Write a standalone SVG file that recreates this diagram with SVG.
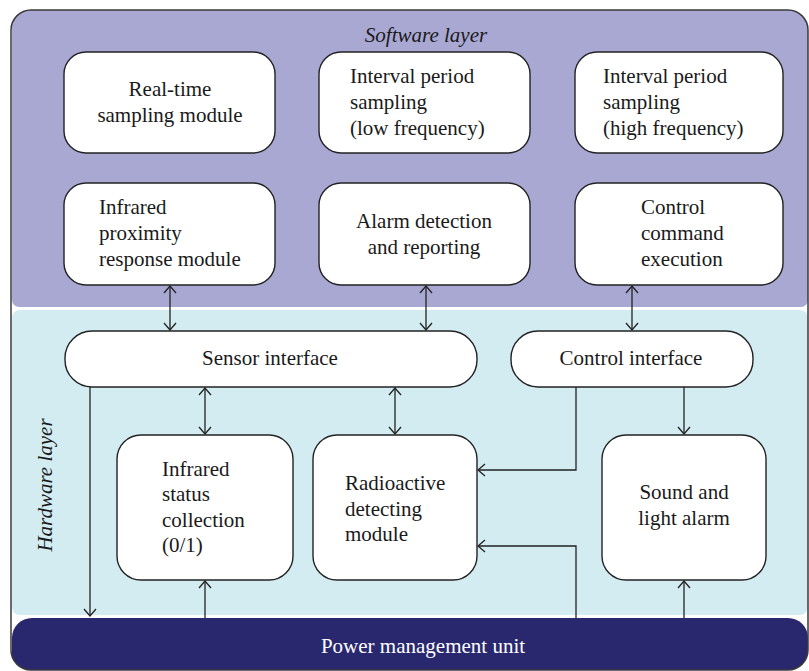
<svg xmlns="http://www.w3.org/2000/svg" width="809" height="671" viewBox="0 0 809 671">
<style>
.box{fill:#fff;stroke:#222;stroke-width:1.4}
.t{font-family:"Liberation Serif","Times New Roman",serif;font-size:21px;fill:#1a1a1a}
.c{text-anchor:middle}
.i{font-style:italic}
.w{fill:#fff}
.ln{fill:none;stroke:#222;stroke-width:1.3}
</style>
<defs>
<clipPath id="frameClip"><rect x="11" y="10" width="797" height="660" rx="20"/></clipPath>
<marker id="ah" markerUnits="userSpaceOnUse" markerWidth="16" markerHeight="16" viewBox="-8 -8 16 16" refX="0" refY="0" orient="auto-start-reverse">
<path d="M-7,-6 L0,0 L-7,6" fill="none" stroke="#222" stroke-width="1.3"/>
</marker>
</defs>
<g id="layers">
<rect x="11" y="10" width="797" height="660" rx="20" fill="#fff"/>
<g clip-path="url(#frameClip)">
<rect id="software-layer" x="12" y="5" width="796" height="302" rx="7" fill="#a9a8d3"/>
<rect id="hardware-layer" x="12" y="310" width="796" height="305" rx="8" fill="#d3ecf2"/>
<rect id="power-layer" x="12" y="618" width="796" height="70" rx="20" fill="#29286f"/>
</g>
<rect x="11" y="10" width="797" height="660" rx="20" fill="none" stroke="#3a3a3a" stroke-width="1.5"/>
<text class="t i c" x="426" y="42">Software layer</text>
<text class="t i c" transform="translate(52,485) rotate(-90)">Hardware layer</text>
</g>
<g id="connectors">
<path class="ln" d="M170,286 V330" marker-start="url(#ah)" marker-end="url(#ah)"/>
<path class="ln" d="M426,286 V330" marker-start="url(#ah)" marker-end="url(#ah)"/>
<path class="ln" d="M632,286 V330" marker-start="url(#ah)" marker-end="url(#ah)"/>
<path class="ln" d="M205,388 V434" marker-start="url(#ah)" marker-end="url(#ah)"/>
<path class="ln" d="M395,388 V434" marker-start="url(#ah)" marker-end="url(#ah)"/>
<path class="ln" d="M90,387 V616" marker-end="url(#ah)"/>
<path class="ln" d="M205,618 V581" marker-end="url(#ah)"/>
<path class="ln" d="M576,387 V470 H478" marker-end="url(#ah)"/>
<path class="ln" d="M576,618 V546 H478" marker-end="url(#ah)"/>
<path class="ln" d="M684,387 V434" marker-end="url(#ah)"/>
<path class="ln" d="M684,618 V581" marker-end="url(#ah)"/>
</g>
<g id="realtime-sampling">
<rect class="box" x="64" y="52" width="211" height="101" rx="22"/>
<text class="t c" x="170" y="96">Real-time</text>
<text class="t c" x="170" y="122">sampling module</text>
</g>
<g id="interval-low">
<rect class="box" x="319" y="52" width="211" height="101" rx="22"/>
<text class="t" x="350" y="83">Interval period</text>
<text class="t" x="350" y="109">sampling</text>
<text class="t" x="350" y="135">(low frequency)</text>
</g>
<g id="interval-high">
<rect class="box" x="575" y="52" width="208" height="101" rx="22"/>
<text class="t" x="603" y="83">Interval period</text>
<text class="t" x="603" y="109">sampling</text>
<text class="t" x="603" y="135">(high frequency)</text>
</g>
<g id="infrared-proximity">
<rect class="box" x="64" y="183" width="211" height="102" rx="22"/>
<text class="t" x="99" y="214">Infrared</text>
<text class="t" x="99" y="240">proximity</text>
<text class="t" x="99" y="266">response module</text>
</g>
<g id="alarm-detection">
<rect class="box" x="319" y="183" width="211" height="102" rx="22"/>
<text class="t c" x="424" y="228">Alarm detection</text>
<text class="t c" x="424" y="254">and reporting</text>
</g>
<g id="control-command">
<rect class="box" x="575" y="183" width="208" height="102" rx="22"/>
<text class="t" x="641" y="214">Control</text>
<text class="t" x="641" y="240">command</text>
<text class="t" x="641" y="266">execution</text>
</g>
<g id="sensor-interface">
<rect class="box" x="65" y="331" width="412" height="56" rx="27"/>
<text class="t c" x="270" y="365">Sensor interface</text>
</g>
<g id="control-interface">
<rect class="box" x="511" y="331" width="242" height="56" rx="27"/>
<text class="t c" x="631" y="365">Control interface</text>
</g>
<g id="infrared-status">
<rect class="box" x="117" y="435" width="176" height="145" rx="24"/>
<text class="t" x="162" y="476">Infrared</text>
<text class="t" x="162" y="501">status</text>
<text class="t" x="162" y="527">collection</text>
<text class="t" x="162" y="552">(0/1)</text>
</g>
<g id="radioactive-module">
<rect class="box" x="313" y="435" width="164" height="145" rx="24"/>
<text class="t" x="345" y="490">Radioactive</text>
<text class="t" x="345" y="516">detecting</text>
<text class="t" x="345" y="541">module</text>
</g>
<g id="sound-light-alarm">
<rect class="box" x="602" y="435" width="164" height="145" rx="24"/>
<text class="t c" x="684" y="499">Sound and</text>
<text class="t c" x="684" y="525">light alarm</text>
</g>
<g id="power-management">
<text class="t c w" x="423" y="653">Power management unit</text>
</g>
</svg>
